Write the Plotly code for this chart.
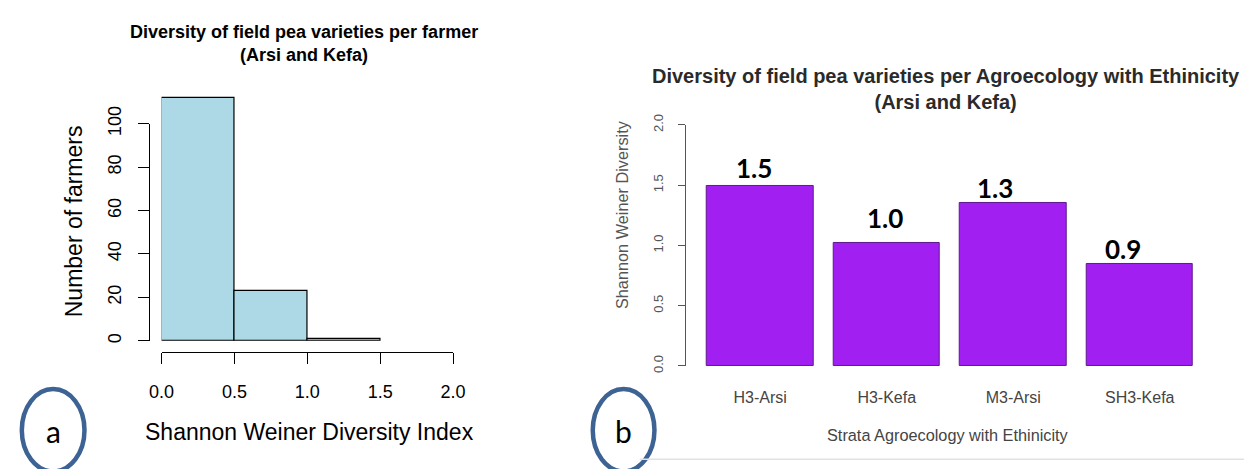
import plotly.graph_objects as go

# ---------------- data ----------------
# panel a: histogram of Shannon Weiner Diversity Index per farmer
bin_edges = [0.0, 0.5, 1.0, 1.5]
farmer_counts = [112, 23, 1]
hist_xticks = [0.0, 0.5, 1.0, 1.5, 2.0]
hist_xticklabels = ["0.0", "0.5", "1.0", "1.5", "2.0"]
hist_yticks = [0, 20, 40, 60, 80, 100]

# panel b: diversity per agroecology with ethnicity
strata = ["H3-Arsi", "H3-Kefa", "M3-Arsi", "SH3-Kefa"]
diversity = [1.49, 1.02, 1.35, 0.85]
value_labels = ["1.5", "1.0", "1.3", "0.9"]
div_yticks = [0.0, 0.5, 1.0, 1.5, 2.0]
div_yticklabels = ["0.0", "0.5", "1.0", "1.5", "2.0"]

# ---------------- layout helpers ----------------
W, H = 1257, 469
def px(x):
    return x / W
def py(y):
    return 1 - y / H

FONT = "Liberation Sans, Arial, sans-serif"
CAL = "Lato, Carlito, Calibri, sans-serif"

bin_centers = [(bin_edges[i] + bin_edges[i + 1]) / 2 for i in range(len(farmer_counts))]
bin_widths = [bin_edges[i + 1] - bin_edges[i] for i in range(len(farmer_counts))]

fig = go.Figure()

# histogram bars (panel a)
fig.add_trace(go.Bar(
    x=bin_centers, y=farmer_counts, width=bin_widths,
    marker=dict(color="#ADD8E6", line=dict(color="#000000", width=1.2)),
    xaxis="x", yaxis="y", showlegend=False, hoverinfo="x+y",
))
# invisible trace carrying the visible count axis (y3)
fig.add_trace(go.Scatter(x=[None], y=[None], xaxis="x", yaxis="y3",
                         showlegend=False, hoverinfo="skip"))

# bars (panel b)
fig.add_trace(go.Bar(
    x=strata, y=diversity, width=0.84,
    marker=dict(color="#A21FF2", line=dict(color="#5E1A8C", width=1)),
    xaxis="x2", yaxis="y2", showlegend=False,
))

# pixel scale of the histogram count axis: 0 -> 341, 100 -> 111.7
ppu = (341 - 111.7) / 100.0
ytop_bars = (341 - 77) / ppu

fig.update_layout(
    width=W, height=H,
    margin=dict(l=0, r=0, t=0, b=0),
    paper_bgcolor="white", plot_bgcolor="rgba(0,0,0,0)",
    font=dict(family=FONT, color="#000"),
    bargap=0,
    xaxis=dict(
        domain=[px(151.7), px(449.3)], range=[0, 2], anchor="free", position=py(352.7),
        showline=True, linecolor="#000", linewidth=1.2,
        ticks="outside", ticklen=11, tickwidth=1.2, tickcolor="#000",
        tickvals=hist_xticks, ticktext=hist_xticklabels,
        tickfont=dict(size=18, family=FONT, color="#000"),
        ticklabelstandoff=12,
        showgrid=False, zeroline=False,
    ),
    yaxis=dict(
        domain=[py(341), py(77)], range=[0, ytop_bars], anchor="x",
        visible=False, showgrid=False, zeroline=False,
    ),
    yaxis3=dict(
        domain=[py(341), py(111.7)], range=[0, 100], anchor="free", position=px(139.3),
        showline=True, linecolor="#000", linewidth=1.2,
        ticks="outside", ticklen=11, tickwidth=1.2, tickcolor="#000",
        tickvals=hist_yticks, tickangle=-90,
        tickfont=dict(size=18, family=FONT, color="#000"),
        ticklabelstandoff=10,
        showgrid=False, zeroline=False,
    ),
    xaxis2=dict(
        domain=[px(690), px(1230)], range=[(690 - 763) / 129.2, (1230 - 763) / 129.2],
        anchor="y2", showline=False, ticks="",
        tickfont=dict(size=16, family=FONT, color="#444"),
        ticklabelstandoff=20,
        showgrid=False, zeroline=False,
    ),
    yaxis2=dict(
        domain=[py(367.5), py(113)], range=[0, 2], anchor="free", position=px(686),
        showline=True, linecolor="#555", linewidth=1,
        ticks="outside", ticklen=7, tickwidth=1, tickcolor="#555",
        tickvals=div_yticks, ticktext=div_yticklabels, tickangle=-90,
        tickfont=dict(size=13, family=FONT, color="#555"),
        ticklabelstandoff=10,
        showgrid=False, zeroline=False,
    ),
)

annotations = [
    # panel a titles
    dict(text="<b>Diversity of field pea varieties per farmer<br>(Arsi and Kefa)</b>",
         x=px(297), y=py(27), xref="paper", yref="paper", xanchor="center", yanchor="middle",
         showarrow=False, font=dict(size=18, family=FONT, color="#000")),
    dict(text="Shannon Weiner Diversity Index", x=px(303), y=py(437), xref="paper", yref="paper",
         xanchor="center", yanchor="middle", showarrow=False,
         font=dict(size=23, family=FONT, color="#000")),
    dict(text="Number of farmers", x=px(62), y=py(215), xref="paper", yref="paper",
         xanchor="center", yanchor="middle", textangle=-90, showarrow=False,
         font=dict(size=23, family=FONT, color="#000")),
    # panel b titles
    dict(text="<b>Diversity of field pea varieties per Agroecology with Ethinicity<br>(Arsi and Kefa)</b>",
         x=px(953), y=py(75), xref="paper", yref="paper", xanchor="center", yanchor="middle",
         showarrow=False, font=dict(size=20, family=FONT, color="#2a2a2a")),
    dict(text="Strata Agroecology with Ethinicity", x=px(955), y=py(440), xref="paper", yref="paper",
         xanchor="center", yanchor="middle", showarrow=False,
         font=dict(size=16.3, family=FONT, color="#444")),
    dict(text="Shannon Weiner Diversity", x=px(622), y=py(208), xref="paper", yref="paper",
         xanchor="center", yanchor="middle", textangle=-90, showarrow=False,
         font=dict(size=16.3, family=FONT, color="#555")),
    # panel letters
    dict(text="a", x=px(41), y=py(436), xref="paper", yref="paper", xanchor="center", yanchor="middle",
         showarrow=False, font=dict(size=30, family=CAL, color="#000")),
    dict(text="b", x=px(623.5), y=py(436), xref="paper", yref="paper", xanchor="center", yanchor="middle",
         showarrow=False, font=dict(size=30, family=CAL, color="#000")),
]

# value labels above bars (panel b)
label_dx = [-6, -2, -18, -17]
label_dy = [16, 23, 13, 13]
for cat, val, lab, dx, dy in zip(strata, diversity, value_labels, label_dx, label_dy):
    annotations.append(dict(
        text="<b>" + lab + "</b>", x=cat, y=val, xref="x2", yref="y2",
        xanchor="center", yanchor="middle", xshift=dx, yshift=dy + 2, showarrow=False,
        font=dict(size=26, family=CAL, color="#000")))

fig.update_layout(annotations=annotations)

# panel letter ellipses and faint frame line of panel b
fig.update_layout(shapes=[
    dict(type="circle", xref="paper", yref="paper",
         x0=px(9), x1=px(73), y0=py(392), y1=py(479),
         line=dict(color="#3D6394", width=4.5)),
    dict(type="circle", xref="paper", yref="paper",
         x0=px(592), x1=px(655), y0=py(392), y1=py(479),
         line=dict(color="#3D6394", width=4.5)),
    dict(type="line", xref="paper", yref="paper",
         x0=px(640), x1=1, y0=py(466), y1=py(466),
         line=dict(color="#e2e2e2", width=1.5)),
])

fig.write_html("out.html")
